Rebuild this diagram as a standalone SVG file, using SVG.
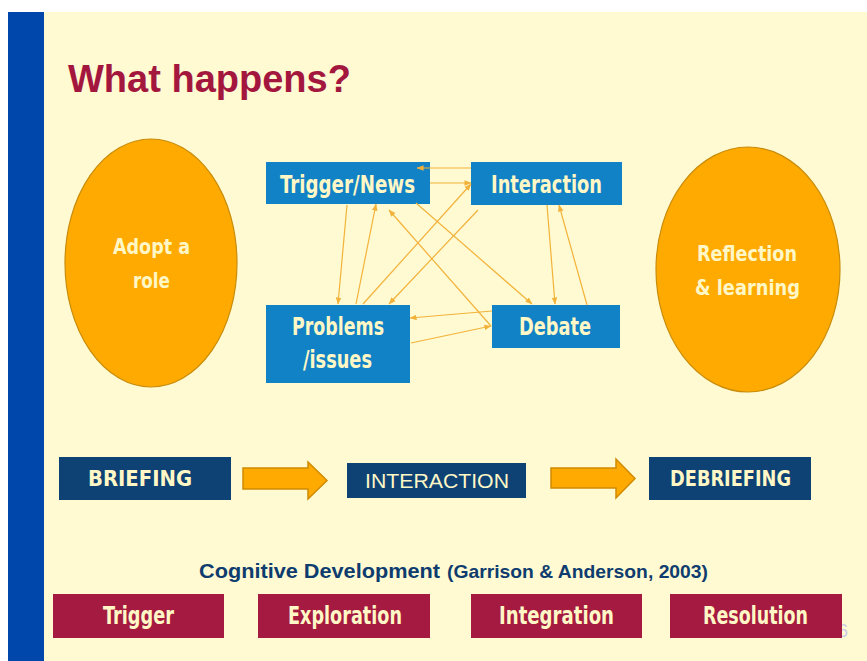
<svg xmlns="http://www.w3.org/2000/svg" width="867" height="661" viewBox="0 0 867 661">
  <defs>
    <style>
      .cond { font-family: "Liberation Sans Narrow", "DejaVu Sans Condensed", "Roboto", sans-serif; font-weight: bold; fill: #FFF7C6; }
      .ellipse { fill: #FFAA00; stroke: #C98C0A; stroke-width: 1.2; }
      .blue { fill: #1182C5; }
      .navy { fill: #0E4274; }
      .crimson { fill: #A51A40; }
      .block { fill: #FFAA00; stroke: #D08A00; stroke-width: 1.5; }
      .link { fill: none; stroke: #F2B23A; stroke-width: 1.2; marker-end: url(#head); }
    </style>
    <marker id="head" viewBox="0 0 8 8" refX="7.5" refY="4" markerWidth="7" markerHeight="7" markerUnits="userSpaceOnUse" orient="auto">
      <path d="M0,0.8 L8,4 L0,7.2 z" fill="#F2B23A"/>
    </marker>
  </defs>

  <!-- page -->
  <rect x="0" y="0" width="867" height="661" fill="#FFFFFF"/>
  <rect x="8" y="12" width="859" height="649" fill="#FFFAD2"/>
  <rect x="8" y="12" width="36" height="649" fill="#0047AB"/>

  <text x="68" y="92" font-family="Liberation Sans, Arial, sans-serif" font-weight="bold" font-size="38" fill="#A3173F">What happens?</text>

  <!-- side phases -->
  <g id="adopt-role">
    <ellipse class="ellipse" cx="151" cy="263" rx="86" ry="124"/>
    <text class="cond" x="151.5" y="254" font-size="22" text-anchor="middle" textLength="77" lengthAdjust="spacingAndGlyphs">Adopt a</text>
    <text class="cond" x="151.5" y="288" font-size="22" text-anchor="middle" textLength="37" lengthAdjust="spacingAndGlyphs">role</text>
  </g>
  <g id="reflection">
    <ellipse class="ellipse" cx="748" cy="269.5" rx="92" ry="122.5"/>
    <text class="cond" x="747" y="261" font-size="22" text-anchor="middle" textLength="100" lengthAdjust="spacingAndGlyphs">Reflection</text>
    <text class="cond" x="747.5" y="295" font-size="22" text-anchor="middle" textLength="105" lengthAdjust="spacingAndGlyphs">&amp; learning</text>
  </g>

  <!-- interaction cycle -->
  <g id="trigger-news">
    <rect class="blue" x="266" y="162" width="164" height="42"/>
    <text class="cond" x="347.5" y="193" font-size="24" text-anchor="middle" textLength="135" lengthAdjust="spacingAndGlyphs">Trigger/News</text>
  </g>
  <g id="interaction">
    <rect class="blue" x="471" y="162" width="151" height="43"/>
    <text class="cond" x="546.5" y="193" font-size="24" text-anchor="middle" textLength="111" lengthAdjust="spacingAndGlyphs">Interaction</text>
  </g>
  <g id="problems">
    <rect class="blue" x="266" y="305" width="144" height="78"/>
    <text class="cond" x="338" y="335" font-size="24" text-anchor="middle" textLength="92" lengthAdjust="spacingAndGlyphs">Problems</text>
    <text class="cond" x="337.5" y="368" font-size="24" text-anchor="middle" textLength="69" lengthAdjust="spacingAndGlyphs">/issues</text>
  </g>
  <g id="debate">
    <rect class="blue" x="492" y="305" width="128" height="43"/>
    <text class="cond" x="555" y="335" font-size="24" text-anchor="middle" textLength="72" lengthAdjust="spacingAndGlyphs">Debate</text>
  </g>

  <g id="connectors">
    <line class="link" x1="471" y1="168" x2="417" y2="168"/>
    <line class="link" x1="430" y1="183" x2="471" y2="183"/>
    <line class="link" x1="347" y1="205" x2="338" y2="304"/>
    <line class="link" x1="356" y1="304" x2="376" y2="204"/>
    <line class="link" x1="416" y1="203" x2="532" y2="304"/>
    <line class="link" x1="491" y1="326" x2="389" y2="210"/>
    <line class="link" x1="363" y1="304" x2="471" y2="184"/>
    <line class="link" x1="478" y1="210" x2="389" y2="304"/>
    <line class="link" x1="547" y1="205" x2="555" y2="304"/>
    <line class="link" x1="587" y1="305" x2="559" y2="205"/>
    <line class="link" x1="492" y1="311" x2="410" y2="318"/>
    <line class="link" x1="411" y1="343" x2="491" y2="326"/>
  </g>

  <!-- session stages -->
  <g id="briefing">
    <rect class="navy" x="59" y="457" width="172" height="43"/>
    <text class="cond" x="140" y="486" font-size="21" text-anchor="middle" textLength="104" lengthAdjust="spacingAndGlyphs">BRIEFING</text>
  </g>
  <g id="stage-flow">
    <path class="block" d="M243,468 L308,468 L308,462 L327,480.5 L308,499 L308,489 L243,489 Z"/>
    <path class="block" d="M551,468 L616,468 L616,459 L635,478.5 L616,498 L616,488 L551,488 Z"/>
  </g>
  <g id="interaction-stage">
    <rect class="navy" x="347" y="463" width="179" height="35"/>
    <text x="437" y="488" font-family="Liberation Sans, Arial, sans-serif" font-size="21" fill="#FFF7C6" text-anchor="middle" textLength="144" lengthAdjust="spacingAndGlyphs">INTERACTION</text>
  </g>
  <g id="debriefing">
    <rect class="navy" x="649" y="457" width="162" height="43"/>
    <text class="cond" x="730.5" y="486" font-size="21" text-anchor="middle" textLength="121" lengthAdjust="spacingAndGlyphs">DEBRIEFING</text>
  </g>

  <!-- cognitive development phases -->
  <text y="578" font-family="Liberation Sans, Arial, sans-serif" font-weight="bold" fill="#0E3C6E"><tspan x="199" font-size="21" textLength="241" lengthAdjust="spacingAndGlyphs">Cognitive Development</tspan><tspan x="447" font-size="19" textLength="261" lengthAdjust="spacingAndGlyphs">(Garrison &amp; Anderson, 2003)</tspan></text>

  <text x="838" y="637" font-family="Liberation Sans, Arial, sans-serif" font-size="18" fill="#C9CCE6">6</text>

  <g id="phase-trigger">
    <rect class="crimson" x="53" y="594" width="171" height="44"/>
    <text class="cond" x="138.5" y="624" font-size="25" text-anchor="middle" textLength="71" lengthAdjust="spacingAndGlyphs">Trigger</text>
  </g>
  <g id="phase-exploration">
    <rect class="crimson" x="258" y="594" width="172" height="44"/>
    <text class="cond" x="345" y="624" font-size="25" text-anchor="middle" textLength="114" lengthAdjust="spacingAndGlyphs">Exploration</text>
  </g>
  <g id="phase-integration">
    <rect class="crimson" x="471" y="594" width="171" height="44"/>
    <text class="cond" x="556.5" y="624" font-size="25" text-anchor="middle" textLength="115" lengthAdjust="spacingAndGlyphs">Integration</text>
  </g>
  <g id="phase-resolution">
    <rect class="crimson" x="670" y="594" width="172" height="44"/>
    <text class="cond" x="755.5" y="624" font-size="25" text-anchor="middle" textLength="105" lengthAdjust="spacingAndGlyphs">Resolution</text>
  </g>
</svg>
